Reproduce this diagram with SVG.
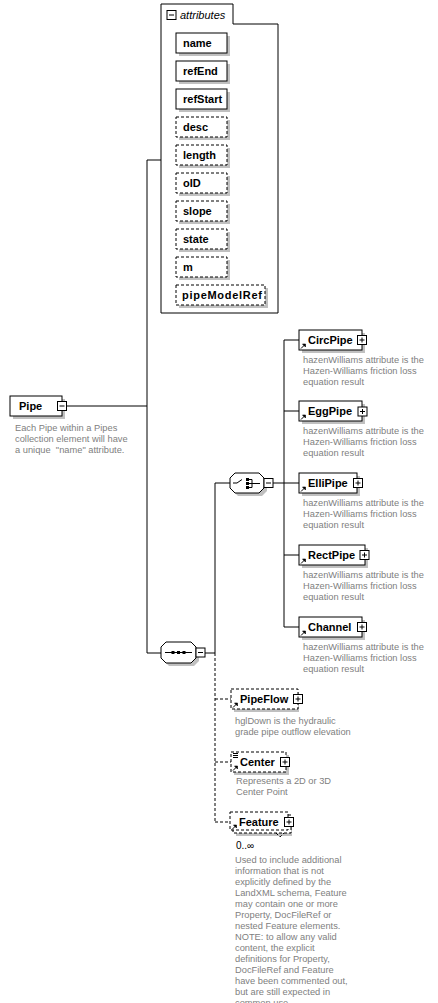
<svg xmlns="http://www.w3.org/2000/svg" width="438" height="1003" viewBox="0 0 438 1003">
<style>
.bg{fill:#fff}
.box{fill:#fff;stroke:#000;stroke-width:1}
.dbox{fill:#fff;stroke:#000;stroke-width:1;stroke-dasharray:3,2}
.sh{fill:#c0c0c0}
.ln{fill:none;stroke:#000;stroke-width:1}
.dl{fill:none;stroke:#000;stroke-width:1;stroke-dasharray:3,2}
.nm{font-family:"Liberation Sans",Arial,sans-serif;font-weight:bold;font-size:11px;fill:#000}
.ds{font-family:"Liberation Sans",Arial,sans-serif;font-size:9.3px;fill:#808080}
.it{font-family:"Liberation Sans",Arial,sans-serif;font-style:italic;font-size:11px;fill:#000}
.oc{font-family:"Liberation Sans",Arial,sans-serif;font-size:10px;fill:#000}
</style>
<defs>
<g id="plus"><rect x="-4.5" y="-4.5" width="9" height="9" class="box"/><path d="M-2.5,0H2.5M0,-2.5V2.5" class="ln"/></g>
<g id="minus"><rect x="-4.5" y="-4.5" width="9" height="9" class="box"/><path d="M-2.5,0H2.5" class="ln"/></g>
<g id="ref"><path d="M0,5L3.5,1.5" class="ln"/><path d="M1.5,0.5H4.5V3.5Z" fill="#000" stroke="#000" stroke-width="0.6"/></g>
</defs>
<rect x="0" y="0" width="438" height="1003" class="bg"/>

<g id="connectors">
<path class="ln" d="M67,406H147M147,160V653M147,160H161M147,653H161M205,653H215M215,483V653M215,483H230M273,483H284M284,340V627M284,340H299M284,411H299M284,483H299M284,555H299M284,627H299"/>
<path class="dl" d="M215,653V822M215,699H231M215,762H231M215,822H230"/>
</g>

<g id="attributes">
<path class="box" d="M161,4H233V24H278V313H161Z"/>
<use href="#minus" x="171.5" y="15"/>
<text class="it" x="180" y="19">attributes</text>
</g>
<g id="attr-name"><rect class="sh" x="179" y="36" width="51" height="20"/><rect class="box" x="176" y="33" width="51" height="20"/><text class="nm" x="183" y="47">name</text></g>
<g id="attr-refEnd"><rect class="sh" x="179" y="64" width="51" height="20"/><rect class="box" x="176" y="61" width="51" height="20"/><text class="nm" x="183" y="75">refEnd</text></g>
<g id="attr-refStart"><rect class="sh" x="179" y="92" width="51" height="20"/><rect class="box" x="176" y="89" width="51" height="20"/><text class="nm" x="183" y="103">refStart</text></g>
<g id="attr-desc"><rect class="sh" x="179" y="120" width="51" height="20"/><rect class="dbox" x="176" y="117" width="51" height="20"/><text class="nm" x="183" y="131">desc</text></g>
<g id="attr-length"><rect class="sh" x="179" y="148" width="51" height="20"/><rect class="dbox" x="176" y="145" width="51" height="20"/><text class="nm" x="183" y="159">length</text></g>
<g id="attr-oID"><rect class="sh" x="179" y="176" width="51" height="20"/><rect class="dbox" x="176" y="173" width="51" height="20"/><text class="nm" x="183" y="187">oID</text></g>
<g id="attr-slope"><rect class="sh" x="179" y="204" width="51" height="20"/><rect class="dbox" x="176" y="201" width="51" height="20"/><text class="nm" x="183" y="215">slope</text></g>
<g id="attr-state"><rect class="sh" x="179" y="232" width="51" height="20"/><rect class="dbox" x="176" y="229" width="51" height="20"/><text class="nm" x="183" y="243">state</text></g>
<g id="attr-m"><rect class="sh" x="179" y="260" width="51" height="20"/><rect class="dbox" x="176" y="257" width="51" height="20"/><text class="nm" x="183" y="271">m</text></g>
<g id="attr-pipeModelRef"><rect class="sh" x="179" y="288" width="89" height="20"/><rect class="dbox" x="176" y="285" width="89" height="20"/><text class="nm" x="182" y="299" textLength="80">pipeModelRef</text></g>

<g id="Pipe">
<rect class="sh" x="13" y="399" width="52" height="20"/>
<rect class="box" x="10" y="396" width="52" height="20"/>
<text class="nm" x="19" y="410">Pipe</text>
<use href="#minus" x="62" y="406"/>
<text class="ds" x="15" y="431">Each Pipe within a Pipes</text>
<text class="ds" x="15" y="442">collection element will have</text>
<text class="ds" x="15" y="453" xml:space="preserve">a unique  "name" attribute.</text>
</g>

<g id="sequence">
<polygon class="sh" points="169,645 194,645 199,650 199,661 194,666 169,666 164,661 164,650"/>
<polygon class="box" points="166,642 191,642 196,647 196,658 191,663 166,663 161,658 161,647"/>
<path class="ln" d="M165,652.5H192"/>
<rect x="171.5" y="651" width="3" height="3" fill="#000"/>
<rect x="177" y="651" width="3" height="3" fill="#000"/>
<rect x="182.5" y="651" width="3" height="3" fill="#000"/>
<use href="#minus" x="200.5" y="652.5"/>
</g>

<g id="choice">
<polygon class="sh" points="238,476 262,476 267,481 267,491 262,496 238,496 233,491 233,481"/>
<polygon class="box" points="235,473 259,473 264,478 264,488 259,493 235,493 230,488 230,478"/>
<path class="ln" d="M233,483H237L242,479.5M249,479.5H252V487.5H249M249,483.5H252M252,483.5H260"/>
<rect x="246" y="478" width="3" height="3" fill="#000"/>
<rect x="246" y="482" width="3" height="3" fill="#000"/>
<rect x="246" y="486" width="3" height="3" fill="#000"/>
<use href="#minus" x="268.5" y="483"/>
</g>

<g id="CircPipe">
<rect class="sh" x="302" y="333" width="63" height="20"/>
<rect class="box" x="299" y="330" width="63" height="20"/>
<use href="#ref" x="301" y="343.5"/>
<text class="nm" x="308" y="344">CircPipe</text>
<use href="#plus" x="362" y="340"/>
<text class="ds" x="303" y="363">hazenWilliams attribute is the</text>
<text class="ds" x="303" y="374">Hazen-Williams friction loss</text>
<text class="ds" x="303" y="385">equation result</text>
</g>
<g id="EggPipe">
<rect class="sh" x="302" y="404" width="63" height="20"/>
<rect class="box" x="299" y="401" width="63" height="20"/>
<use href="#ref" x="301" y="414.5"/>
<text class="nm" x="308" y="415">EggPipe</text>
<use href="#plus" x="362.5" y="411.5"/>
<text class="ds" x="303" y="434">hazenWilliams attribute is the</text>
<text class="ds" x="303" y="445">Hazen-Williams friction loss</text>
<text class="ds" x="303" y="456">equation result</text>
</g>
<g id="ElliPipe">
<rect class="sh" x="302" y="476" width="58" height="20"/>
<rect class="box" x="299" y="473" width="58" height="20"/>
<use href="#ref" x="301" y="486.5"/>
<text class="nm" x="308" y="487">ElliPipe</text>
<use href="#plus" x="358" y="483"/>
<text class="ds" x="303" y="506">hazenWilliams attribute is the</text>
<text class="ds" x="303" y="517">Hazen-Williams friction loss</text>
<text class="ds" x="303" y="528">equation result</text>
</g>
<g id="RectPipe">
<rect class="sh" x="302" y="548" width="66" height="20"/>
<rect class="box" x="299" y="545" width="66" height="20"/>
<use href="#ref" x="301" y="558.5"/>
<text class="nm" x="308" y="559">RectPipe</text>
<use href="#plus" x="364.5" y="555"/>
<text class="ds" x="303" y="578">hazenWilliams attribute is the</text>
<text class="ds" x="303" y="589">Hazen-Williams friction loss</text>
<text class="ds" x="303" y="600">equation result</text>
</g>
<g id="Channel">
<rect class="sh" x="302" y="620" width="63" height="20"/>
<rect class="box" x="299" y="617" width="63" height="20"/>
<use href="#ref" x="301" y="630.5"/>
<text class="nm" x="308" y="631">Channel</text>
<use href="#plus" x="362" y="627"/>
<text class="ds" x="303" y="650">hazenWilliams attribute is the</text>
<text class="ds" x="303" y="661">Hazen-Williams friction loss</text>
<text class="ds" x="303" y="672">equation result</text>
</g>

<g id="PipeFlow">
<rect class="sh" x="234" y="692" width="65" height="20"/>
<rect class="dbox" x="231" y="689" width="67" height="20"/>
<use href="#ref" x="233" y="702.5"/>
<text class="nm" x="240" y="703">PipeFlow</text>
<use href="#plus" x="298" y="699"/>
<text class="ds" x="235" y="724">hglDown is the hydraulic</text>
<text class="ds" x="235" y="735">grade pipe outflow elevation</text>
</g>
<g id="Center">
<rect class="sh" x="234" y="755" width="55" height="20"/>
<rect class="dbox" x="231" y="752" width="55" height="20"/>
<path class="ln" d="M233,753.5H238M233,755.5H238M233,757.5H238"/>
<use href="#ref" x="233" y="765.5"/>
<text class="nm" x="240" y="766">Center</text>
<use href="#plus" x="285" y="762"/>
<text class="ds" x="236" y="784">Represents a 2D or 3D</text>
<text class="ds" x="236" y="795">Center Point</text>
</g>
<g id="Feature">
<rect class="sh" x="236" y="818" width="56" height="18"/>
<rect class="dbox" x="233" y="815" width="58" height="18"/>
<rect class="dbox" x="230" y="812" width="58" height="18"/>
<use href="#ref" x="232" y="824.5"/>
<text class="nm" x="239" y="826">Feature</text>
<use href="#plus" x="289" y="822"/>
<path class="dl" d="M276,833L280,837L284,833" stroke-dasharray="1.5,1"/>
<text class="oc" x="236" y="849">0..∞</text>
<text class="ds" x="235" y="863">Used to include additional</text>
<text class="ds" x="235" y="874">information that is not</text>
<text class="ds" x="235" y="885">explicitly defined by the</text>
<text class="ds" x="235" y="896">LandXML schema, Feature</text>
<text class="ds" x="235" y="907">may contain one or more</text>
<text class="ds" x="235" y="918">Property, DocFileRef or</text>
<text class="ds" x="235" y="929">nested Feature elements.</text>
<text class="ds" x="235" y="940">NOTE: to allow any valid</text>
<text class="ds" x="235" y="951">content, the explicit</text>
<text class="ds" x="235" y="962">definitions for Property,</text>
<text class="ds" x="235" y="973">DocFileRef and Feature</text>
<text class="ds" x="235" y="984">have been commented out,</text>
<text class="ds" x="235" y="995">but are still expected in</text>
<text class="ds" x="235" y="1006">common use.</text>
</g>
</svg>
